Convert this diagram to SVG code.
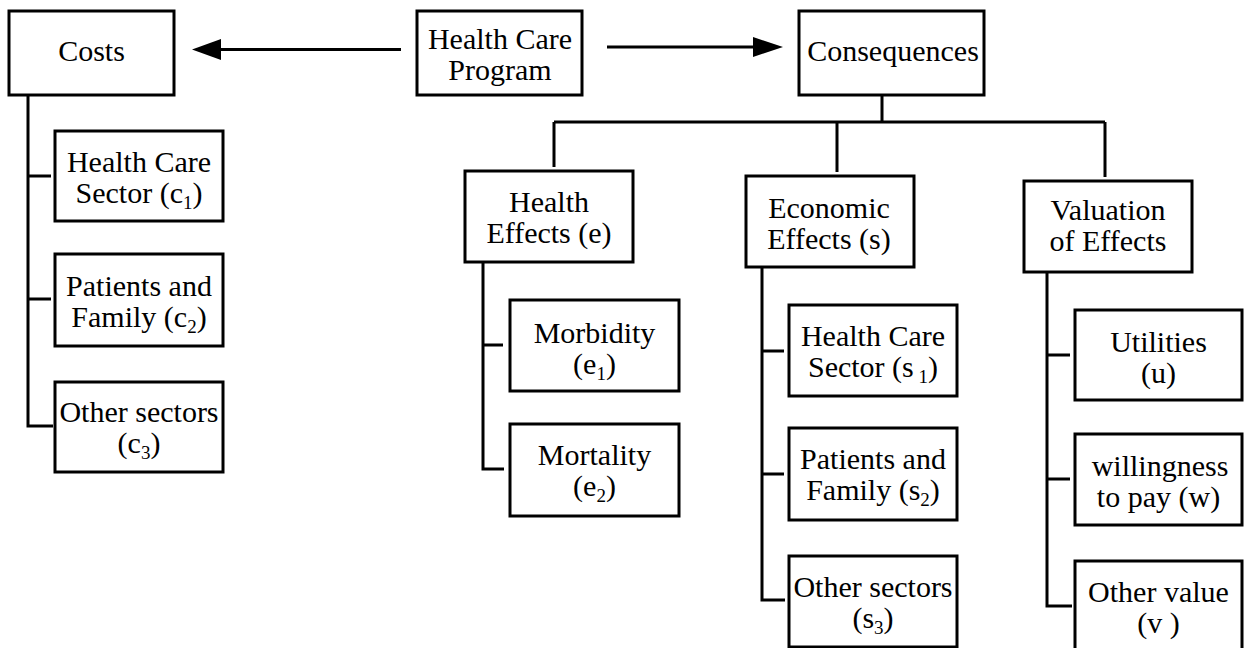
<svg xmlns="http://www.w3.org/2000/svg" width="1251" height="648" viewBox="0 0 1251 648">
<style>
.box{fill:#fff;stroke:#000;stroke-width:3}
.ln{fill:none;stroke:#000;stroke-width:3}
text{font-family:"Liberation Serif","Times New Roman",serif;font-size:30px;fill:#000;text-anchor:middle}
.sub{font-size:19px}
</style>
<rect width="1251" height="648" fill="#fff"/>
<g id="connectors">
<path class="ln" d="M401 49.5H218"/>
<polygon points="192,49.5 221,39 221,60" fill="#000"/>
<path class="ln" d="M607 47H756"/>
<polygon points="783,47 753,37 753,57" fill="#000"/>
<path class="ln" d="M28 95V426H53M28 176H51M28 299H51"/>
<path class="ln" d="M882 95V122M554 122H1105M554 122V167M837 122V172M1105 122V177"/>
<path class="ln" d="M483 262V469H504M483 345H503"/>
<path class="ln" d="M762 267V600H785M762 351H784M762 474H784"/>
<path class="ln" d="M1047 272V606H1072M1047 355H1070M1047 479H1070"/>
</g>
<g id="costs"><rect class="box" x="9" y="11" width="165" height="84"/><text x="91.5" y="61">Costs</text></g>
<g id="program"><rect class="box" x="417" y="11" width="165" height="84"/><text x="500" y="49">Health Care</text><text x="500" y="80">Program</text></g>
<g id="consequences"><rect class="box" x="799" y="11" width="185" height="84"/><text x="893" y="61">Consequences</text></g>
<g id="c1"><rect class="box" x="55" y="131" width="168" height="90"/><text x="139" y="172">Health Care</text><text x="139" y="203">Sector (c<tspan class="sub" dy="6">1</tspan><tspan dy="-6">)</tspan></text></g>
<g id="c2"><rect class="box" x="55" y="254" width="168" height="92"/><text x="139" y="296">Patients and</text><text x="139" y="327">Family (c<tspan class="sub" dy="6">2</tspan><tspan dy="-6">)</tspan></text></g>
<g id="c3"><rect class="box" x="55" y="382" width="168" height="90"/><text x="139" y="422">Other sectors</text><text x="139" y="453">(c<tspan class="sub" dy="6">3</tspan><tspan dy="-6">)</tspan></text></g>
<g id="health-effects"><rect class="box" x="465" y="171" width="168" height="91"/><text x="549" y="212">Health</text><text x="549" y="243">Effects (e)</text></g>
<g id="e1"><rect class="box" x="510" y="300" width="169" height="91"/><text x="594.5" y="343">Morbidity</text><text x="594.5" y="374">(e<tspan class="sub" dy="6">1</tspan><tspan dy="-6">)</tspan></text></g>
<g id="e2"><rect class="box" x="510" y="424" width="169" height="92"/><text x="594.5" y="465">Mortality</text><text x="594.5" y="496">(e<tspan class="sub" dy="6">2</tspan><tspan dy="-6">)</tspan></text></g>
<g id="economic-effects"><rect class="box" x="746" y="176" width="168" height="91"/><text x="829" y="218">Economic</text><text x="829" y="249">Effects (s)</text></g>
<g id="s1"><rect class="box" x="789" y="305" width="168" height="91"/><text x="873" y="346">Health Care</text><text x="873" y="377">Sector (s<tspan class="sub" dy="6"> 1</tspan><tspan dy="-6">)</tspan></text></g>
<g id="s2"><rect class="box" x="789" y="428" width="168" height="92"/><text x="873" y="469">Patients and</text><text x="873" y="500">Family (s<tspan class="sub" dy="6">2</tspan><tspan dy="-6">)</tspan></text></g>
<g id="s3"><rect class="box" x="789" y="556" width="168" height="91"/><text x="873" y="597">Other sectors</text><text x="873" y="628">(s<tspan class="sub" dy="6">3</tspan><tspan dy="-6">)</tspan></text></g>
<g id="valuation"><rect class="box" x="1024" y="181" width="168" height="91"/><text x="1108" y="220">Valuation</text><text x="1108" y="251">of Effects</text></g>
<g id="u"><rect class="box" x="1075" y="310" width="167" height="90"/><text x="1158.5" y="352">Utilities</text><text x="1158.5" y="383">(u)</text></g>
<g id="w"><rect class="box" x="1075" y="434" width="167" height="91"/><text x="1160" y="476">willingness</text><text x="1158.5" y="507">to pay (w)</text></g>
<g id="v"><rect class="box" x="1075" y="561" width="167" height="92"/><text x="1158.5" y="602">Other value</text><text x="1158.5" y="633">(v )</text></g>
</svg>
